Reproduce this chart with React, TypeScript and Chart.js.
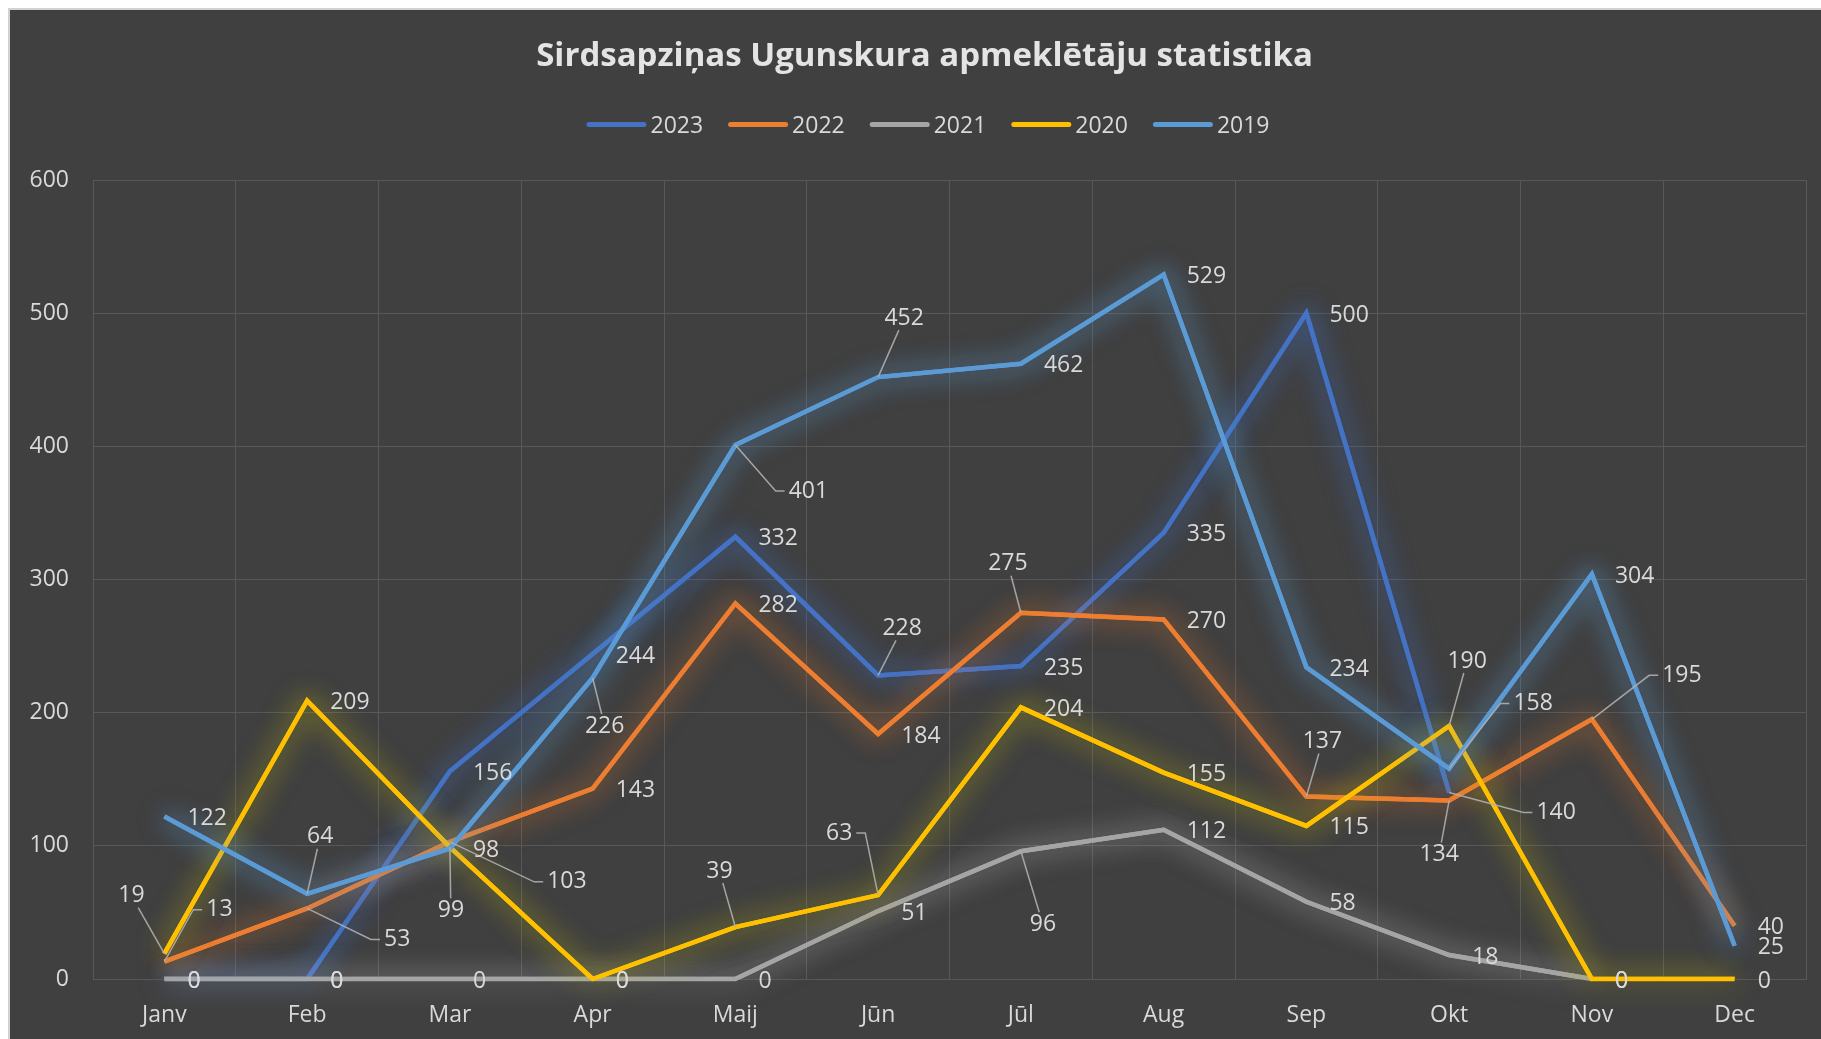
import React, { useEffect, useRef } from 'react';
import { Chart, registerables } from 'chart.js';

Chart.register(...registerables);

// ---------- data ----------
const months = ['Janv', 'Feb', 'Mar', 'Apr', 'Maij', 'Jūn', 'Jūl', 'Aug', 'Sep', 'Okt', 'Nov', 'Dec'];
const seriesNames = ['2023', '2022', '2021', '2020', '2019'];
const v2023 = [0, 0, 156, 244, 332, 228, 235, 335, 500, 140, null, null];
const v2022 = [13, 53, 103, 143, 282, 184, 275, 270, 137, 134, 195, 40];
const v2021 = [0, 0, 0, 0, 0, 51, 96, 112, 58, 18, 0, null];
const v2020 = [19, 209, 99, 0, 39, 63, 204, 155, 115, 190, 0, 0];
const v2019 = [122, 64, 98, 226, 401, 452, 462, 529, 234, 158, 304, 25];
const yMin = 0;
const yMax = 600;
const yStep = 100;
const titleText = 'Sirdsapziņas Ugunskura apmeklētāju statistika';

// ---------- styles ----------
const seriesValues = [v2023, v2022, v2021, v2020, v2019];
const colors = ['#4472C4', '#ED7D31', '#A5A5A5', '#FFC000', '#5B9BD5'];
const glowColors = [
  'rgba(68,114,196,0.8)',
  'rgba(237,125,49,0.6)',
  'rgba(215,215,215,0.55)',
  'rgba(205,195,0,0.6)',
  'rgba(91,155,213,0.8)',
];
const BG = '#404040';
const GRID = '#585858';
const TEXT = '#d9d9d9';
const FONT = 'Open Sans';
const FS = 23;

// label placement: 'r' = right of point; [dx, dy] = label centre offset with leader; 'e' = elbow leader
type Place = 'r' | [number, number] | [number, number, string];
const placements: Place[][] = [
  ['r', 'r', 'r', 'r', 'r', [24, -48], 'r', 'r', 'r', [107, 19, 'e'], 'r', 'r'],
  [[55, -53, 'e'], [90, 30, 'e'], [117, 39, 'e'], 'r', 'r', 'r', [-13, -50], 'r', [16, -56], [-10, 53], [90, -45, 'e'], 'r'],
  ['r', 'r', 'r', 'r', 'r', 'r', [22, 72], 'r', 'r', 'r', 'r', 'r'],
  [[-33, -59], 'r', [1, 62], 'r', [-16, -57], [-39, -63, 'e'], 'r', 'r', 'r', [18, -66], 'r', 'r'],
  ['r', [13, -58], 'r', [12, 47], [73, 45, 'e'], [26, -60], 'r', 'r', 'r', [84, -66, 'e'], 'r', 'r'],
];

const glowPlugin = {
  id: 'glow',
  beforeDatasetDraw(chart: any, args: any) {
    const ctx = chart.ctx;
    ctx.save();
    ctx.shadowColor = glowColors[args.index];
    ctx.shadowBlur = 28;
    ctx.shadowOffsetX = 0;
    ctx.shadowOffsetY = 0;
    // extra pass to strengthen the glow
    args.meta.controller.draw();
  },
  afterDatasetDraw(chart: any) {
    chart.ctx.restore();
  },
};

const labelPlugin = {
  id: 'valueLabels',
  afterDatasetsDraw(chart: any) {
    const ctx = chart.ctx;
    ctx.save();
    ctx.font = `${FS}px "${FONT}"`;
    ctx.textBaseline = 'middle';
    ctx.textAlign = 'center';
    chart.data.datasets.forEach((ds: any, di: number) => {
      const meta = chart.getDatasetMeta(di);
      meta.data.forEach((pt: any, i: number) => {
        const v = ds.data[i];
        if (v === null || v === undefined) return;
        const text = String(v);
        const w = ctx.measureText(text).width;
        const h = 18;
        const pl = placements[di][i];
        let cx: number;
        let cy: number;
        if (pl === 'r') {
          cx = pt.x + 23 + w / 2;
          cy = pt.y + 2;
        } else {
          cx = pt.x + pl[0];
          cy = pt.y + pl[1] + 1;
          ctx.strokeStyle = 'rgba(175,175,175,0.9)';
          ctx.lineWidth = 1.5;
          ctx.beginPath();
          ctx.moveTo(pt.x, pt.y);
          if (pl.length === 3) {
            const s = Math.sign(pl[0]);
            const ex = cx - s * (w / 2 + 4);
            ctx.lineTo(ex - s * 9, cy);
            ctx.lineTo(ex, cy);
          } else {
            const dx = cx - pt.x;
            const dy = cy - pt.y;
            const hx = w / 2 + 4;
            const hy = h / 2 + 3;
            const sc = Math.min(hx / Math.max(Math.abs(dx), 1e-6), hy / Math.max(Math.abs(dy), 1e-6));
            const t = 1 - sc;
            ctx.lineTo(pt.x + dx * t, pt.y + dy * t);
          }
          ctx.stroke();
        }
        ctx.fillStyle = TEXT;
        ctx.fillText(text, cx, cy);
      });
    });
    ctx.restore();
  },
};

const headerPlugin = {
  id: 'header',
  afterDraw(chart: any) {
    const ctx = chart.ctx;
    ctx.save();
    // title
    ctx.font = `bold 33px "${FONT}"`;
    ctx.textAlign = 'center';
    ctx.textBaseline = 'alphabetic';
    ctx.fillStyle = '#e4e4e4';
    ctx.fillText(titleText, 914.5, 55.5);
    // legend
    ctx.font = `${FS}px "${FONT}"`;
    ctx.textBaseline = 'middle';
    ctx.textAlign = 'left';
    const widths = seriesNames.map((n) => ctx.measureText(n).width);
    const sw = 60;
    const gapText = 4;
    const gapItem = 25;
    const total = widths.reduce((a, b) => a + b + sw + gapText, 0) + gapItem * (seriesNames.length - 1);
    let x = 918 - total / 2;
    const y = 114;
    seriesNames.forEach((n, i) => {
      ctx.strokeStyle = colors[i];
      ctx.lineWidth = 5;
      ctx.lineCap = 'round';
      ctx.beginPath();
      ctx.moveTo(x + 2.5, y + 0.5);
      ctx.lineTo(x + sw - 2.5, y + 0.5);
      ctx.stroke();
      ctx.fillStyle = TEXT;
      ctx.fillText(n, x + sw + gapText, y + 2);
      x += sw + gapText + widths[i] + gapItem;
    });
    ctx.restore();
  },
};

export default function App() {
  const ref = useRef<HTMLCanvasElement | null>(null);
  useEffect(() => {
    if (!ref.current) return;
    Chart.defaults.font.family = FONT;
    const chart = new Chart(ref.current, {
      type: 'line',
      data: {
        labels: months,
        datasets: seriesNames.map((name, i) => ({
          label: name,
          data: seriesValues[i],
          borderColor: colors[i],
          backgroundColor: colors[i],
          borderWidth: 4.5,
          pointRadius: 0,
          pointHoverRadius: 0,
          tension: 0,
          fill: false,
          order: seriesNames.length - 1 - i,
        })),
      },
      options: {
        responsive: false,
        animation: false,
        layout: { padding: { left: 0, right: 15, top: 170, bottom: 0 } },
        plugins: {
          legend: { display: false },
          tooltip: { enabled: false },
          title: { display: false },
        },
        scales: {
          x: {
            offset: true,
            grid: { color: GRID, offset: true, drawTicks: false, lineWidth: 1 },
            border: { color: GRID },
            ticks: { color: TEXT, font: { family: FONT, size: FS }, padding: 23, autoSkip: false, maxRotation: 0 },
            afterFit: (s: any) => { s.height = 60; },
          },
          y: {
            min: yMin,
            max: yMax,
            grid: { color: GRID, drawTicks: false, lineWidth: 1 },
            border: { color: GRID },
            ticks: { stepSize: yStep, color: TEXT, font: { family: FONT, size: FS }, padding: 24 },
            afterFit: (s: any) => { s.width = 83; },
          },
        },
      },
      plugins: [glowPlugin, labelPlugin, headerPlugin],
    } as any);
    return () => chart.destroy();
  }, []);

  return (
    <div
      style={{
        position: 'fixed',
        left: 8,
        top: 8,
        width: 1813,
        height: 1031,
        boxSizing: 'border-box',
        borderLeft: '2px solid #d2d2d2',
        borderTop: '2px solid #d2d2d2',
        background: BG,
        overflow: 'hidden',
      }}
    >
      <canvas ref={ref} width={1811} height={1029} style={{ display: 'block', width: 1811, height: 1029 }} />
    </div>
  );
}
